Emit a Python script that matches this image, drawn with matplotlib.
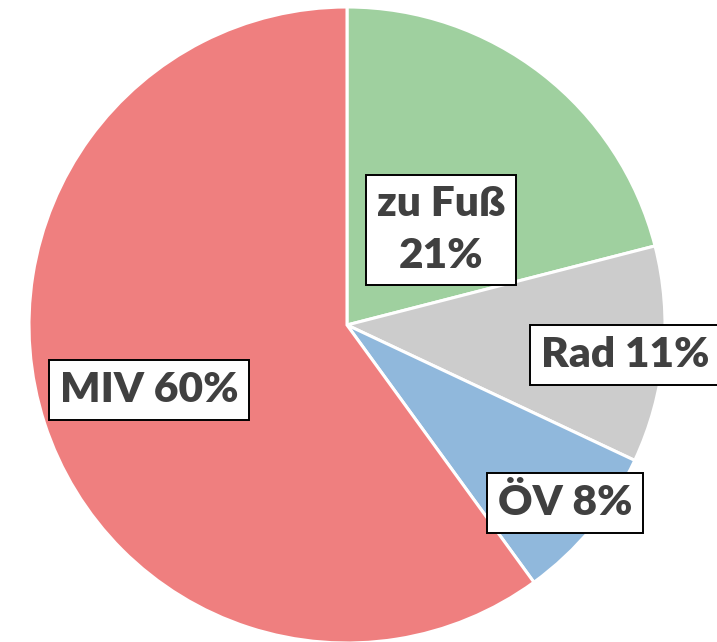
import matplotlib
matplotlib.use("Agg")
import matplotlib.pyplot as plt

# Verkehrsmittelwahl (Modal Split)
categories = ["zu Fuß", "Rad", "ÖV", "MIV"]
shares = [21, 11, 8, 60]
label_texts = ["zu Fuß\n21%", "Rad 11%", "ÖV 8%", "MIV 60%"]

colors = ["#9fd09f", "#cccccc", "#90b8dc", "#ef7f7f"]
TEXT_COLOR = "#404040"

W, H = 717, 642
# label box centres in pixel coords (top-left origin)
label_pos = [(441, 230), (625, 355), (565, 503), (149, 390)]

fig = plt.figure(figsize=(W / 100, H / 100), dpi=100)
ax = fig.add_axes([0, 0, 1, 1])

ax.pie(
    shares,
    colors=colors,
    startangle=90,
    counterclock=False,
    center=(347, H - 325),
    radius=318,
    wedgeprops=dict(edgecolor="white", linewidth=2.2),
    frame=True,
)
ax.set_xlim(0, W)
ax.set_ylim(0, H)
ax.axis("off")

for text, (px, py) in zip(label_texts, label_pos):
    ax.text(
        px, H - py, text,
        ha="center", va="center", multialignment="center",
        fontsize=30.5, fontweight="heavy", family=["Lato", "DejaVu Sans"],
        color=TEXT_COLOR, linespacing=1.42, clip_on=False,
        bbox=dict(boxstyle="square,pad=0.25", facecolor="white",
                  edgecolor="black", linewidth=1.4),
    )

fig.savefig("out.png", dpi=100)
